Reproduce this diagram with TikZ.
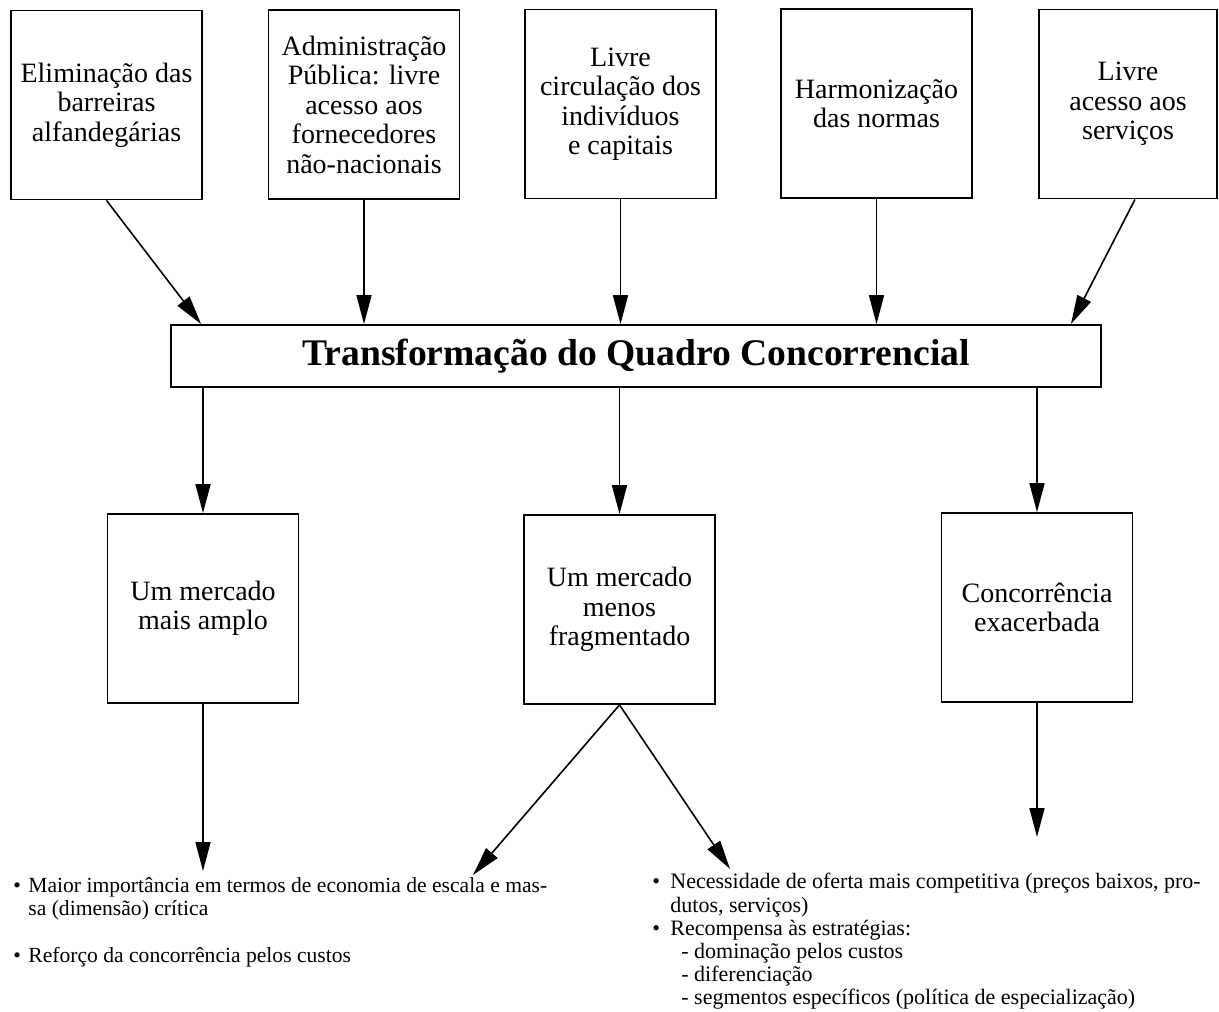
\documentclass[tikz,border=0pt]{standalone}
\usepackage{fontspec}
\setmainfont{Liberation Serif}
\usetikzlibrary{arrows.meta, positioning, calc}

\tikzset{
  caixa/.style={draw, line width=0.9pt, minimum width=95.5pt, minimum height=94.5pt, inner sep=2pt, align=center, font=\fontsize{14}{14.75}\selectfont},
  seta/.style={line width=0.8pt, -{Triangle[length=14.5pt, width=7.5pt]}},
  lista/.style={anchor=north west, inner sep=0pt, align=left, font=\fontsize{10.8}{11.75}\selectfont}
}
\newcommand{\topico}[1][7.5pt]{\makebox[#1][l]{\textbullet}}

\begin{document}
\begin{tikzpicture}[x=0.5pt, y=-0.5pt]
  \useasboundingbox (0,0) rectangle (1219,1011);

  \node[caixa] (barreiras) at (106.5,105) {Eliminação das\\barreiras\\alfandegárias};
  \node[caixa] (admin) at (364,104.5) {Administração\\Pública: livre\\acesso aos\\fornecedores\\não-nacionais};
  \node[caixa] (circulacao) at (620.5,104) {Livre\\circulação dos\\indivíduos\\e capitais};
  \node[caixa] (normas) at (876.5,103.5) {Harmonização\\das normas};
  \node[caixa, minimum width=89pt] (servicos) at (1128,104) {Livre\\acesso aos\\serviços};

  \node[draw, line width=0.9pt, minimum width=465pt, minimum height=31pt,
        font=\fontsize{18.8}{20}\selectfont\bfseries] (quadro) at (636,356) {Transformação do Quadro Concorrencial};

  \node[caixa] (amplo) at (203,608.5) {Um mercado\\mais amplo};
  \node[caixa] (fragmentado) at (619.5,609.5) {Um mercado\\menos\\fragmentado};
  \node[caixa] (exacerbada) at (1037,607.5) {Concorrência\\exacerbada};

  \coordinate (fimA) at (203,871);
  \coordinate (fimB) at (473,875);
  \coordinate (fimC) at (730,869);
  \coordinate (fimD) at (1037,837);

  \draw[seta] (barreiras.south) -- ($(quadro.north west)+(31,0)$);
  \draw[seta] (admin.south) -- (admin.south |- quadro.north);
  \draw[seta] (circulacao.south) -- (circulacao.south |- quadro.north);
  \draw[seta] (normas.south) -- (normas.south |- quadro.north);
  \draw[seta] ($(servicos.south)+(7,0)$) -- ($(quadro.north east)+(-31,0)$);

  \draw[seta] (quadro.south -| amplo.north) -- (amplo.north);
  \draw[seta] (quadro.south -| fragmentado.north) -- (fragmentado.north);
  \draw[seta] (quadro.south -| exacerbada.north) -- (exacerbada.north);

  \draw[seta] (amplo.south) -- (fimA);
  \draw[seta] (fragmentado.south) -- (fimB);
  \draw[seta] (fragmentado.south) -- (fimC);
  \draw[seta] (exacerbada.south) -- (fimD);

  \node[lista] (custos) at (13,877) {\topico Maior importância em termos de economia de escala e mas-\\
    \hspace*{7.5pt}sa (dimensão) crítica\\[11.75pt]
    \topico Reforço da concorrência pelos custos};
  \node[lista, font=\fontsize{11}{11.6}\selectfont] (estrategias) at (652,873) {\topico[9pt]Necessidade de oferta mais competitiva (preços baixos, pro-\\
    \hspace*{9pt}dutos, serviços)\\
    \topico[9pt]Recompensa às estratégias:\\
    \hspace*{14.5pt}- dominação pelos custos\\
    \hspace*{14.5pt}- diferenciação\\
    \hspace*{14.5pt}- segmentos específicos (política de especialização)};
\end{tikzpicture}
\end{document}
